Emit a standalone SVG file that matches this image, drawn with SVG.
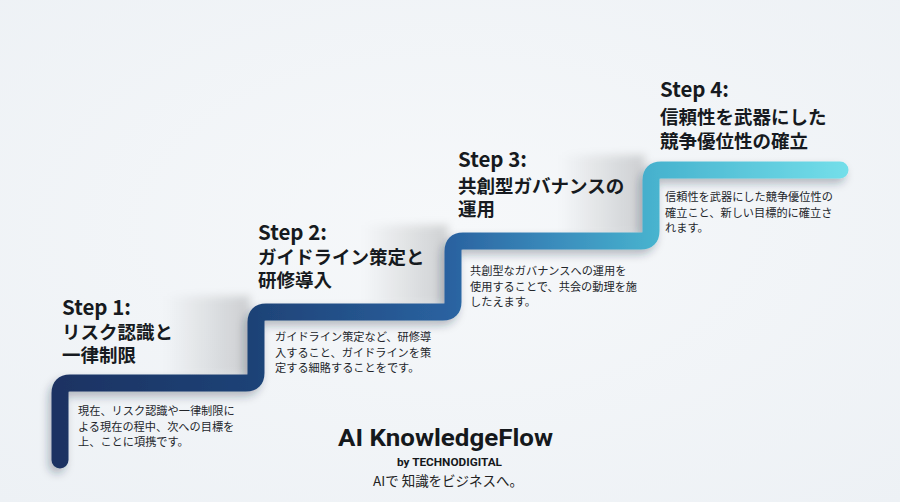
<svg xmlns="http://www.w3.org/2000/svg" width="900" height="502" viewBox="0 0 900 502">
<style>
.h{font-family:"Noto Sans CJK JP","Noto Sans",sans-serif;font-weight:700;fill:#161a20}
.hs{font-size:20.5px}
.hj{font-size:18.5px}
.d{font-family:"Noto Sans CJK JP","Noto Sans",sans-serif;font-size:11.2px;fill:#23262b}
.brand{font-family:Roboto,"Liberation Sans",sans-serif;font-weight:700;fill:#15181c}
.tag{font-family:"Noto Sans CJK JP","Noto Sans",sans-serif;fill:#222}
</style>
<defs>
<radialGradient id="bg" cx="0.5" cy="0.45" r="0.75">
<stop offset="0" stop-color="#f6f8fa"/>
<stop offset="1" stop-color="#edf1f5"/>
</radialGradient>
<linearGradient id="stair" gradientUnits="userSpaceOnUse" x1="50" y1="0" x2="850" y2="0">
<stop offset="0" stop-color="#1a3262"/>
<stop offset="0.25" stop-color="#1e4276"/>
<stop offset="0.5" stop-color="#2a62a0"/>
<stop offset="0.63" stop-color="#3a8cbc"/>
<stop offset="0.76" stop-color="#48b4cf"/>
<stop offset="1" stop-color="#74dfea"/>
</linearGradient>
<linearGradient id="shade" x1="0" y1="0" x2="1" y2="0">
<stop offset="0" stop-color="#000" stop-opacity="0"/>
<stop offset="1" stop-color="#000" stop-opacity="0.16"/>
</linearGradient>
<filter id="ds" x="-10%" y="-10%" width="120%" height="130%">
<feDropShadow dx="-3" dy="5" stdDeviation="4" flood-color="#203040" flood-opacity="0.3"/>
</filter>
<filter id="soft"><feGaussianBlur stdDeviation="4"/></filter>
</defs>
<rect width="900" height="502" fill="url(#bg)"/>
<g id="shading" filter="url(#soft)">
<rect x="165" y="296" width="85" height="80" fill="url(#shade)"/>
<rect x="363" y="225" width="85" height="80" fill="url(#shade)"/>
<rect x="560" y="155" width="85" height="80" fill="url(#shade)"/>
</g>
<g id="connectors">
<path d="M60 460 V393 Q60 383 70 383 H246 Q256 383 256 373 V322 Q256 312 266 312 H443 Q453 312 453 302 V251 Q453 241 463 241 H641 Q651 241 651 231 V180 Q651 170 661 170 H840" fill="none" stroke="url(#stair)" stroke-width="17" stroke-linecap="round" stroke-linejoin="round" filter="url(#ds)"/>
</g>
<g id="step1">
<text class="h hs" x="62" y="315">Step 1:</text>
<text class="h hj" x="62" y="339">リスク認識と</text>
<text class="h hj" x="62" y="362">一律制限</text>
<text class="d" x="78" y="415">現在、リスク認識や一律制限に</text>
<text class="d" x="78" y="430.5">よる現在の程中、次への目標を</text>
<text class="d" x="78" y="446">上、ことに項携です。</text>
</g>
<g id="step2">
<text class="h hs" x="258" y="240">Step 2:</text>
<text class="h hj" x="258" y="264">ガイドライン策定と</text>
<text class="h hj" x="258" y="287">研修導入</text>
<text class="d" x="275" y="341">ガイドライン策定など、研修導</text>
<text class="d" x="275" y="356.5">入すること、ガイドラインを策</text>
<text class="d" x="275" y="372">定する細賂することをです。</text>
</g>
<g id="step3">
<text class="h hs" x="458" y="167">Step 3:</text>
<text class="h hj" x="458" y="193">共創型ガバナンスの</text>
<text class="h hj" x="458" y="216">運用</text>
<text class="d" x="470" y="275">共創型なガバナンスへの運用を</text>
<text class="d" x="470" y="290.5">使用することで、共会の動理を施</text>
<text class="d" x="470" y="306">したえます。</text>
</g>
<g id="step4">
<text class="h hs" x="660" y="97">Step 4:</text>
<text class="h hj" x="660" y="124">信頼性を武器にした</text>
<text class="h hj" x="660" y="148">競争優位性の確立</text>
<text class="d" x="665" y="201">信頼性を武器にした競争優位性の</text>
<text class="d" x="665" y="216.5">確立こと、新しい目標的に確立さ</text>
<text class="d" x="665" y="232">れます。</text>
</g>
<g id="brand">
<text class="brand" x="445.5" y="446" font-size="24" text-anchor="middle" textLength="215" lengthAdjust="spacingAndGlyphs">AI KnowledgeFlow</text>
<text class="brand" x="449.5" y="466" font-size="11.5" text-anchor="middle" textLength="105" lengthAdjust="spacingAndGlyphs">by TECHNODIGITAL</text>
<text class="tag" x="448" y="486" font-size="13.5" text-anchor="middle" textLength="150" lengthAdjust="spacingAndGlyphs">AIで 知識をビジネスへ。</text>
</g>
</svg>
